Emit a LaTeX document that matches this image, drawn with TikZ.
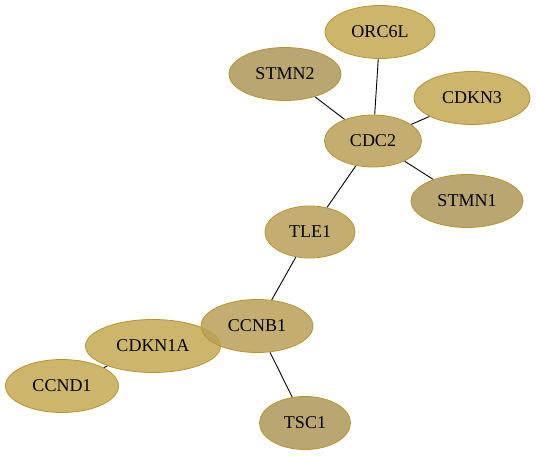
\documentclass[tikz,border=0pt]{standalone}
\usepackage{fontspec}
\setmainfont{Liberation Serif}
\usetikzlibrary{shapes.geometric,backgrounds}
\definecolor{rimgold}{HTML}{B39535}
\definecolor{goldA}{HTML}{C4A852}
\definecolor{goldB}{HTML}{B9A056}
\definecolor{goldC}{HTML}{AD9758}
\tikzset{
  gene/.style={ellipse,draw=rimgold,line width=0.8pt,fill opacity=0.85,text opacity=1,
    inner sep=0pt,font=\fontsize{18}{20}\selectfont},
  link/.style={black,line width=0.9pt}
}
\begin{document}
\begin{tikzpicture}[x=1pt,y=-1pt]
  \useasboundingbox (0,0) rectangle (536,457);
  \node[gene,fill=goldA,minimum width=110pt,minimum height=53pt] (orc6l) at (380,32) {ORC6L};
  \node[gene,fill=goldC,minimum width=112pt,minimum height=53pt] (stmn2) at (285,74) {STMN2};
  \node[gene,fill=goldA,minimum width=116pt,minimum height=53pt] (cdkn3) at (472,98) {CDKN3};
  \node[gene,fill=goldB,minimum width=97pt,minimum height=52pt] (cdc2) at (373,141) {CDC2};
  \node[gene,fill=goldC,minimum width=112pt,minimum height=53pt] (stmn1) at (467,201) {STMN1};
  \node[gene,fill=goldB,minimum width=90pt,minimum height=52pt] (tle1) at (310,232) {TLE1};
  \node[gene,fill=goldA,minimum width=135pt,minimum height=53pt] (cdkn1a) at (153,346) {CDKN1A};
  \node[gene,fill=goldB,minimum width=112pt,minimum height=53pt] (ccnb1) at (257,326) {CCNB1};
  \node[gene,fill=goldA,minimum width=113pt,minimum height=53pt] (ccnd1) at (62,386) {CCND1};
  \node[gene,fill=goldC,minimum width=91pt,minimum height=53pt] (tsc1) at (305,423) {TSC1};
  % edges behind the genes
  \begin{scope}[on background layer]
    \draw[link] (orc6l) -- (cdc2);
    \draw[link] (stmn2) -- (cdc2);
    \draw[link] (cdkn3) -- (cdc2);
    \draw[link] (stmn1) -- (cdc2);
    \draw[link] (cdc2) -- (tle1);
    \draw[link] (tle1) -- (ccnb1);
    \draw[link] (ccnb1) -- (tsc1);
    \draw[link] (cdkn1a) -- (ccnd1);
  \end{scope}
\end{tikzpicture}
\end{document}
